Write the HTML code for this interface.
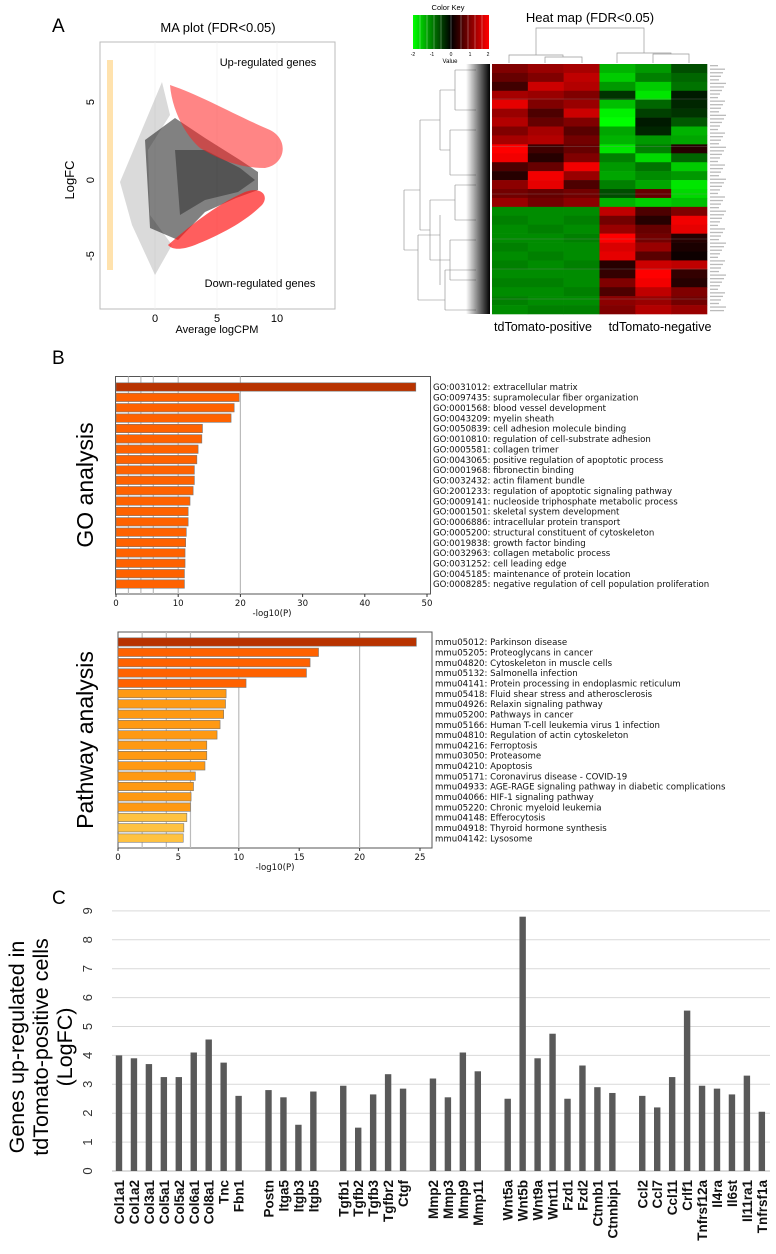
<!DOCTYPE html>
<html><head><meta charset="utf-8"><style>
html,body{margin:0;padding:0;background:#fff;}
svg{display:block;font-family:"Liberation Sans",sans-serif;}
.lbl{font-family:"DejaVu Sans","Liberation Sans",sans-serif;font-size:8.6px;fill:#111;}
</style></head><body>
<svg id="fig" width="776" height="1254" viewBox="0 0 776 1254" xmlns="http://www.w3.org/2000/svg">
<defs>
<linearGradient id="ck" x1="0" x2="1" y1="0" y2="0">
<stop offset="0" stop-color="#00ff00"/><stop offset="0.5" stop-color="#000"/><stop offset="1" stop-color="#ff0000"/>
</linearGradient>
<linearGradient id="dend" x1="0" x2="1"><stop offset="0" stop-color="#000" stop-opacity="0"/><stop offset="1" stop-color="#000"/></linearGradient>
</defs>
<!-- Panel A: MA plot -->
<g>
<text x="52" y="32" font-size="19">A</text>
<text x="218" y="32" font-size="13" text-anchor="middle">MA plot (FDR&lt;0.05)</text>
<rect x="100" y="42" width="235" height="267" fill="#fff" stroke="#bbb"/>
<g stroke="#eee" stroke-width="0.6"><line x1="155" x2="155" y1="42" y2="309"/><line x1="217" x2="217" y1="42" y2="309"/><line x1="277" x2="277" y1="42" y2="309"/></g>
<rect x="107" y="60" width="6" height="210" fill="#ffb733" opacity="0.4"/>
<g>
<polygon points="120,182 162,82 170,115 148,150 150,215 172,245 155,275 132,225" fill="#333" opacity="0.18"/>
<polygon points="145,140 175,118 205,138 240,160 258,172 258,190 236,198 205,212 178,240 150,228" fill="#1a1a1a" opacity="0.55"/>
<polygon points="175,150 205,150 240,168 255,180 238,192 205,200 180,215" fill="#000" opacity="0.35"/>
</g>
<path d="M170,85 C200,95 235,115 270,130 C290,140 285,165 265,168 C240,168 220,160 200,148 C185,135 172,110 170,85 Z" fill="#ff2020" opacity="0.55"/>
<path d="M168,245 C185,230 215,205 245,192 C260,186 270,195 262,205 C245,222 220,235 195,245 C182,250 172,250 168,245 Z" fill="#ff1a1a" opacity="0.7"/>
<text x="268" y="66" font-size="11" text-anchor="middle">Up-regulated genes</text>
<text x="260" y="287" font-size="11" text-anchor="middle">Down-regulated genes</text>
<text transform="translate(74,180) rotate(-90)" font-size="13" text-anchor="middle">LogFC</text>
<g font-size="11" text-anchor="middle">
<text transform="translate(94,102) rotate(-90)">5</text><text transform="translate(94,180) rotate(-90)">0</text><text transform="translate(94,256) rotate(-90)">-5</text></g>
<g font-size="11" text-anchor="middle"><text x="155" y="322">0</text><text x="217" y="322">5</text><text x="277" y="322">10</text></g>
<text x="217" y="333" font-size="11" text-anchor="middle">Average logCPM</text>
</g>
<!-- Heat map -->
<g>
<text x="448" y="10" font-size="7.5" text-anchor="middle">Color Key</text>
<rect x="413" y="15" width="76" height="34" fill="url(#ck)"/>
<g stroke="#fff" stroke-width="0.5" opacity="0.6"><line x1="420" x2="420" y1="15" y2="49"/><line x1="427" x2="427" y1="15" y2="49"/><line x1="434" x2="434" y1="15" y2="49"/><line x1="441" x2="441" y1="15" y2="49"/><line x1="451" x2="451" y1="15" y2="49"/><line x1="461" x2="461" y1="15" y2="49"/><line x1="468" x2="468" y1="15" y2="49"/><line x1="475" x2="475" y1="15" y2="49"/><line x1="482" x2="482" y1="15" y2="49"/></g>
<g font-size="5" text-anchor="middle"><text x="413" y="56">-2</text><text x="432" y="56">-1</text><text x="451" y="56">0</text><text x="470" y="56">1</text><text x="488" y="56">2</text></g>
<text x="450" y="63" font-size="6" text-anchor="middle">Value</text>
<text x="590" y="22" font-size="13" text-anchor="middle">Heat map (FDR&lt;0.05)</text>
<g stroke="#999" stroke-width="0.7" fill="none">
<path d="M536,55 V28 H644 V53"/><path d="M509,63 V55 H563 V57"/><path d="M545,63 V57 H582 V63"/><path d="M617,63 V53 H671 V54"/><path d="M653,63 V54 H689 V63"/></g>
<g stroke="#888" stroke-width="0.6" fill="none">
<path d="M404,190 V250 M404,190 H420 M404,250 H418"/>
<path d="M420,120 V230 M420,120 H440 M420,230 H430"/>
<path d="M418,235 V300 M418,235 H440 M418,300 H445"/>
<path d="M440,90 V150 M440,90 H455 M440,150 H450"/>
<path d="M430,200 V260 M430,200 H455 M430,260 H450"/>
<path d="M440,215 V285 M445,270 V310 M455,70 V110 M450,130 V175 M455,185 V220 M450,240 V280"/>
<path d="M455,70 H476 M455,110 H476 M450,130 H476 M450,175 H476 M455,185 H476 M455,220 H476 M450,240 H476 M450,280 H476 M445,270 H476 M445,310 H476"/>
</g>
<rect x="466" y="64" width="24" height="250" fill="url(#dend)"/>
<g id="heat"></g>
<g id="rowlabels" fill="#bbb"></g>
<text x="543" y="331" font-size="12.5" text-anchor="middle">tdTomato-positive</text>
<text x="660" y="331" font-size="12.5" text-anchor="middle">tdTomato-negative</text>
</g>
<!-- Panel B -->
<text x="52" y="364" font-size="19">B</text>
<text transform="translate(93,485) rotate(-90)" font-size="23" text-anchor="middle">GO analysis</text>
<text transform="translate(93,740) rotate(-90)" font-size="23" text-anchor="middle">Pathway analysis</text>
<g id="go"></g>
<g id="pw"></g>
<!-- Panel C -->
<text x="52" y="904" font-size="19">C</text>
<g font-size="21.5" text-anchor="middle">
<text transform="translate(24,1047) rotate(-90)">Genes up-regulated in</text>
<text transform="translate(48,1047) rotate(-90)">tdTomato-positive cells</text>
<text transform="translate(72,1047) rotate(-90)">(LogFC)</text></g>
<g id="cchart"></g>
</svg>
<script>
const NS="http://www.w3.org/2000/svg";
function mk(tag,attrs,parent){const e=document.createElementNS(NS,tag);for(const k in attrs)e.setAttribute(k,attrs[k]);parent.appendChild(e);return e;}

// Heat map data
const heatRows=[
[1.0,1.2,1.3,-1.4,-1.2,-0.6],[0.8,1.0,1.5,-1.6,-1.0,-0.8],[0.5,1.6,1.4,-1.2,-1.6,-0.9],[1.3,1.2,1.0,-0.4,-1.8,-0.2],
[1.8,1.0,1.2,-1.5,-0.8,-0.3],[1.2,0.6,1.6,-1.9,-0.5,-0.4],[1.4,0.8,1.0,-2.0,-0.2,-0.7],[1.0,1.3,0.7,-1.3,-0.3,-1.4],
[1.3,1.4,0.9,-1.4,-1.2,-1.3],[2.0,0.5,0.8,-1.8,-1.0,0.3],[1.9,0.3,1.0,-1.0,-1.7,-0.8],[0.6,0.8,1.9,-1.2,-0.9,-1.6],
[0.3,1.9,1.2,-1.3,-1.1,-1.2],[1.1,1.8,0.6,-1.0,-1.3,-1.8],[0.9,0.8,0.9,-0.6,0.8,-1.7],[1.2,0.9,1.1,-1.4,-1.6,-1.5],
[-1.1,-1.1,-1.1,1.5,0.6,1.0],[-1.0,-1.1,-1.0,0.9,0.3,1.9],[-1.1,-1.0,-1.1,1.2,0.8,1.8],[-1.1,-1.1,-1.0,2.0,0.9,0.3],
[-1.0,-1.1,-1.1,1.7,1.2,0.2],[-1.1,-1.0,-1.1,1.8,0.7,0.1],[-1.0,-1.1,-1.0,0.3,1.6,1.5],[-1.1,-1.1,-1.1,0.4,2.0,0.4],
[-1.0,-1.0,-1.1,1.0,1.9,0.3],[-1.1,-1.1,-1.0,0.6,1.5,1.0],[-1.0,-1.1,-1.1,1.1,1.2,0.9],[-1.1,-1.0,-1.0,1.0,1.4,1.2]];
const heatCols=["pos1","pos2","pos3","neg1","neg2","neg3"];

// GO data
const goTerms=["GO:0031012: extracellular matrix","GO:0097435: supramolecular fiber organization","GO:0001568: blood vessel development","GO:0043209: myelin sheath","GO:0050839: cell adhesion molecule binding","GO:0010810: regulation of cell-substrate adhesion","GO:0005581: collagen trimer","GO:0043065: positive regulation of apoptotic process","GO:0001968: fibronectin binding","GO:0032432: actin filament bundle","GO:2001233: regulation of apoptotic signaling pathway","GO:0009141: nucleoside triphosphate metabolic process","GO:0001501: skeletal system development","GO:0006886: intracellular protein transport","GO:0005200: structural constituent of cytoskeleton","GO:0019838: growth factor binding","GO:0032963: collagen metabolic process","GO:0031252: cell leading edge","GO:0045185: maintenance of protein location","GO:0008285: negative regulation of cell population proliferation"];
const goValues=[48.2,19.8,19.0,18.5,13.9,13.8,13.2,13.0,12.6,12.6,12.4,11.9,11.6,11.6,11.3,11.2,11.1,11.1,11.0,11.0];
const goTicks=[0,10,20,30,40,50];

// Pathway data
const pwTerms=["mmu05012: Parkinson disease","mmu05205: Proteoglycans in cancer","mmu04820: Cytoskeleton in muscle cells","mmu05132: Salmonella infection","mmu04141: Protein processing in endoplasmic reticulum","mmu05418: Fluid shear stress and atherosclerosis","mmu04926: Relaxin signaling pathway","mmu05200: Pathways in cancer","mmu05166: Human T-cell leukemia virus 1 infection","mmu04810: Regulation of actin cytoskeleton","mmu04216: Ferroptosis","mmu03050: Proteasome","mmu04210: Apoptosis","mmu05171: Coronavirus disease - COVID-19","mmu04933: AGE-RAGE signaling pathway in diabetic complications","mmu04066: HIF-1 signaling pathway","mmu05220: Chronic myeloid leukemia","mmu04148: Efferocytosis","mmu04918: Thyroid hormone synthesis","mmu04142: Lysosome"];
const pwValues=[24.7,16.6,15.9,15.6,10.6,8.95,8.9,8.75,8.45,8.2,7.35,7.35,7.2,6.4,6.25,6.05,6.0,5.7,5.45,5.4];
const pwTicks=[0,5,10,15,20,25];

// Panel C data
const geneNames=["Col1a1","Col1a2","Col3a1","Col5a1","Col5a2","Col6a1","Col8a1","Tnc","Fbn1","","Postn","Itga5","Itgb3","Itgb5","","Tgfb1","Tgfb2","Tgfb3","Tgfbr2","Ctgf","","Mmp2","Mmp3","Mmp9","Mmp11","","Wnt5a","Wnt5b","Wnt9a","Wnt11","Fzd1","Fzd2","Ctnnb1","Ctnnbip1","","Ccl2","Ccl7","Ccl11","Crlf1","Tnfrsf12a","Il4ra","Il6st","Il11ra1","Tnfrsf1a"];
const geneValues=[4.0,3.9,3.7,3.25,3.25,4.1,4.55,3.75,2.6,null,2.8,2.55,1.6,2.75,null,2.95,1.5,2.65,3.35,2.85,null,3.2,2.55,4.1,3.45,null,2.5,8.8,3.9,4.75,2.5,3.65,2.9,2.7,null,2.6,2.2,3.25,5.55,2.95,2.85,2.65,3.3,2.05];
const cTicks=[0,1,2,3,4,5,6,7,8,9];

function heatColor(v){const t=Math.min(1,Math.abs(v)/2);const c=Math.round(255*t);return v<0?`rgb(0,${c},0)`:`rgb(${c},0,0)`;}
(function(){
const g=document.getElementById('heat');const rl=document.getElementById('rowlabels');
const x0=492,x1=707,y0=64,y1=314;const cw=(x1-x0)/heatCols.length,rh=(y1-y0)/heatRows.length;
heatRows.forEach((row,i)=>{row.forEach((v,j)=>{
const r=mk('rect',{x:x0+j*cw,y:y0+i*rh,width:cw+0.3,height:rh+0.3,fill:heatColor(v)},g);

});});
[0.14,0.33,0.52,0.7,0.82,0.94].forEach(f=>{mk('line',{x1:x0,x2:x1,y1:y0+f*(y1-y0),y2:y0+f*(y1-y0),stroke:'#888','stroke-width':0.6,opacity:0.6},g);});
for(let i=0;i<70;i++){const w=8+((i*7)%9);mk('rect',{x:710,y:65+i*3.55,width:w,height:1.3},rl);}
})();

function barChart(id,terms,values,ticks,o){
const g=document.getElementById(id);
const xs=v=>o.x0+v*o.k;
mk('rect',{x:o.fx0,y:o.fy0,width:o.fx1-o.fx0,height:o.fy1-o.fy0,fill:'#fff',stroke:'#555','stroke-width':1},g);
o.grid.forEach(v=>mk('line',{x1:xs(v),x2:xs(v),y1:o.fy0,y2:o.fy1,stroke:'#bbb','stroke-width':1.2},g));
values.forEach((v,i)=>{const y=o.by0+i*o.bs;
const b=mk('rect',{x:o.x0,y:y-4.2,width:xs(v)-o.x0,height:8.4,fill:o.col(i),stroke:'#777','stroke-width':0.6},g);


const t=mk('text',{x:o.lx,y:y+3.2,class:'lbl'},g);t.textContent=terms[i];

});
ticks.forEach(v=>{mk('line',{x1:xs(v),x2:xs(v),y1:o.fy1,y2:o.fy1+3,stroke:'#333'},g);
const t=mk('text',{x:xs(v),y:o.fy1+12,'font-size':8.5,'text-anchor':'middle',class:'lbl'},g);t.textContent=v;

});
const xl=mk('text',{x:o.xlx,y:o.fy1+22,'text-anchor':'middle',class:'lbl'},g);xl.textContent='-log10(P)';


}
barChart('go',goTerms,goValues,goTicks,{x0:116,k:6.22,fx0:115.5,fx1:430.5,fy0:376.5,fy1:594,by0:387,bs:10.37,lx:433,xlx:272,grid:[2,4,6,10,20],
col:i=>i===0?'#b83300':'#ff6200'});
barChart('pw',pwTerms,pwValues,pwTicks,{x0:118,k:12.08,fx0:118,fx1:432,fy0:632,fy1:848,by0:642,bs:10.32,lx:435,xlx:275,grid:[2,4,6,10,20],
col:i=>i===0?'#b83300':(i<5?'#ff6200':(i<17?'#ff9912':'#ffc240'))});

(function(){
const g=document.getElementById('cchart');
const y0=1171,k=28.9,xStart=119,sp=14.95;
const ys=v=>y0-v*k;
cTicks.forEach(v=>{
mk('line',{x1:112,x2:770,y1:ys(v),y2:ys(v),stroke:v===0?'#bbb':'#d9d9d9','stroke-width':1},g);
const t=mk('text',{transform:`translate(${92},${ys(v)}) rotate(-90)`,'font-size':13,'text-anchor':'middle',fill:'#333'},g);t.textContent=v;

});
geneValues.forEach((v,i)=>{const cx=xStart+i*sp;if(v===null)return;
const b=mk('rect',{x:cx-3.2,y:ys(v),width:6.4,height:y0-ys(v),fill:'#595959'},g);


const t=mk('text',{transform:`translate(${cx+5},${1180}) rotate(-90)`,'font-size':13.5,'font-weight':'bold','text-anchor':'end',fill:'#111'},g);t.textContent=geneNames[i];

});
})();
</script>
</body></html>
